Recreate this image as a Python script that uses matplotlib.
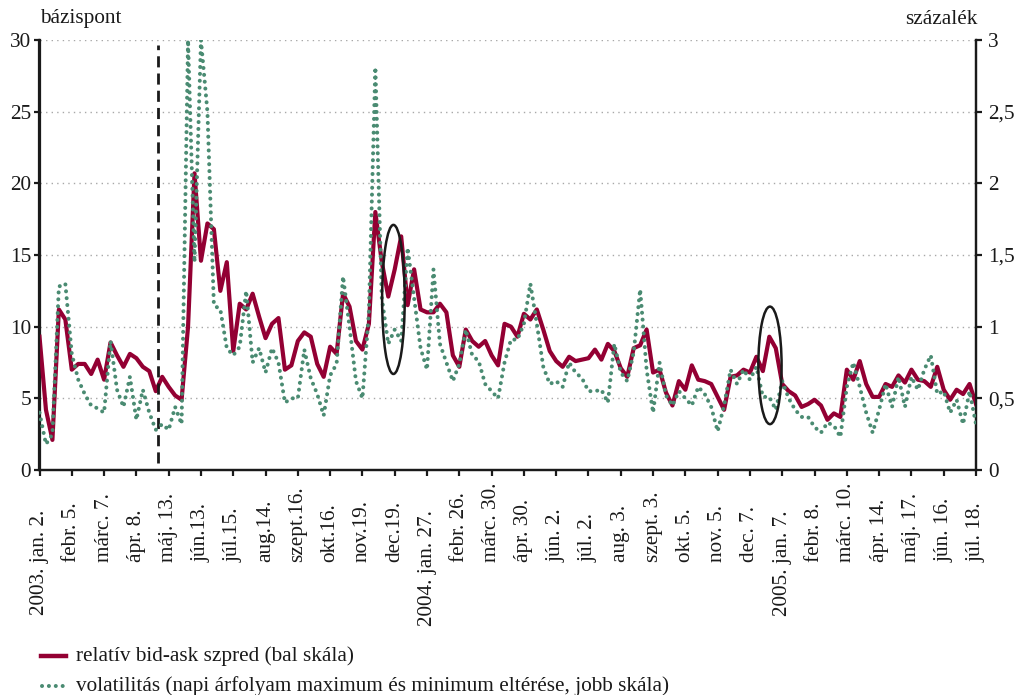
import matplotlib
matplotlib.use("Agg")
import matplotlib.pyplot as plt
from matplotlib.patches import Ellipse
from matplotlib.lines import Line2D
from matplotlib.transforms import blended_transform_factory

plt.rcParams["font.family"] = ["Liberation Serif", "DejaVu Serif"]

# Relative bid-ask spread (basis points, left scale), sampled five times per tick interval
spread_bp = [
    9.3, 4.2, 2.1, 11.2, 10.5, 7.0, 7.4, 7.4, 6.7, 7.7,
    6.3, 8.9, 8.0, 7.2, 8.1, 7.8, 7.2, 6.9, 5.5, 6.5,
    5.8, 5.2, 4.9, 10.0, 20.7, 14.6, 17.2, 16.8, 12.5, 14.5,
    8.3, 11.6, 11.2, 12.3, 10.7, 9.2, 10.2, 10.6, 7.0, 7.3,
    9.0, 9.6, 9.3, 7.4, 6.5, 8.6, 8.1, 12.3, 11.4, 9.0,
    8.4, 10.2, 18.0, 14.5, 12.1, 14.0, 16.3, 11.5, 14.0, 11.2,
    11.0, 11.0, 11.6, 11.0, 8.0, 7.2, 9.8, 9.0, 8.6, 9.0,
    8.0, 7.3, 10.2, 10.0, 9.3, 10.9, 10.5, 11.2, 9.8, 8.3,
    7.6, 7.2, 7.9, 7.6, 7.7, 7.8, 8.4, 7.7, 8.8, 8.3,
    7.1, 6.5, 8.5, 8.7, 9.8, 6.8, 7.0, 5.4, 4.5, 6.2,
    5.6, 7.3, 6.3, 6.2, 6.0, 5.1, 4.2, 6.5, 6.6, 7.0,
    6.8, 7.9, 6.9, 9.3, 8.5, 6.0, 5.5, 5.2, 4.4, 4.6,
    4.9, 4.5, 3.5, 3.95, 3.7, 7.0, 6.3, 7.6, 6.0, 5.1,
    5.1, 6.0, 5.8, 6.6, 6.1, 7.0, 6.3, 6.2, 5.8, 7.2,
    5.6, 4.9, 5.6, 5.3, 6.0, 4.6,
]

# Volatility: gap between daily high and low rate (percent, right scale)
volatility_pct = [
    0.40, 0.18, 0.25, 1.28, 1.30, 0.81, 0.63, 0.53, 0.45, 0.43,
    0.40, 0.90, 0.56, 0.44, 0.65, 0.35, 0.56, 0.40, 0.28, 0.32,
    0.28, 0.44, 0.32, 3.00, 1.45, 3.00, 2.50, 1.15, 1.12, 0.85,
    0.80, 0.86, 1.25, 0.75, 0.85, 0.68, 0.85, 0.75, 0.47, 0.50,
    0.50, 0.84, 0.64, 0.53, 0.38, 0.66, 0.74, 1.35, 1.00, 0.62,
    0.50, 1.10, 2.81, 1.20, 0.88, 0.98, 0.90, 1.55, 1.20, 0.85,
    0.70, 1.40, 0.88, 0.75, 0.62, 0.74, 0.98, 0.80, 0.76, 0.60,
    0.55, 0.50, 0.75, 0.91, 0.91, 1.02, 1.30, 1.02, 0.72, 0.60,
    0.62, 0.58, 0.75, 0.68, 0.64, 0.55, 0.55, 0.56, 0.47, 0.88,
    0.68, 0.62, 0.82, 1.26, 0.70, 0.40, 0.75, 0.52, 0.45, 0.55,
    0.50, 0.45, 0.58, 0.53, 0.44, 0.27, 0.45, 0.70, 0.60, 0.70,
    0.63, 0.72, 0.51, 0.51, 0.42, 0.62, 0.50, 0.42, 0.37, 0.37,
    0.30, 0.26, 0.33, 0.31, 0.23, 0.58, 0.75, 0.58, 0.40, 0.26,
    0.42, 0.60, 0.44, 0.65, 0.44, 0.65, 0.56, 0.70, 0.80, 0.53,
    0.55, 0.40, 0.49, 0.32, 0.55, 0.32,
]

date_labels = [
    "2003. jan. 2.", "febr. 5.", "márc. 7.", "ápr. 8.", "máj. 13.",
    "jún.13.", "júl.15.", "aug.14.", "szept.16.", "okt.16.",
    "nov.19.", "dec.19.", "2004. jan. 27.", "febr. 26.", "márc. 30.",
    "ápr. 30.", "jún. 2.", "júl. 2.", "aug. 3.", "szept. 3.",
    "okt. 5.", "nov. 5.", "dec. 7.", "2005. jan. 7.", "febr. 8.",
    "márc. 10.", "ápr. 14.", "máj. 17.", "jún. 16.", "júl. 18.",
]
left_ticks = [0, 5, 10, 15, 20, 25, 30]
right_ticks = [0, 0.5, 1, 1.5, 2, 2.5, 3]
right_tick_labels = ["0", "0,5", "1", "1,5", "2", "2,5", "3"]

# Event markers: dashed line and highlighted periods (x in sample index)
event_line_x = 18.3
highlights = [  # (centre x, centre y in bp, width, height)
    (54.8, 11.9, 3.5, 10.4),
    (113.1, 7.3, 3.6, 8.2),
]

RED = "#930033"
GREEN = "#4a8b72"
INK = "#1a1a1a"
FS = 15.3
samples_per_tick = 5

W, H = 1015, 695
fig = plt.figure(figsize=(W / 100, H / 100), dpi=100)
ax = fig.add_axes([39.5 / W, 1 - 470 / H, (976 - 39.5) / W, 430 / H])
ax2 = ax.twinx()

x = list(range(len(spread_bp)))
ax.plot(x, spread_bp, color=RED, lw=3.0, solid_joinstyle="round", zorder=3)
ax2.plot(x, volatility_pct, color=GREEN, lw=2.9,
         linestyle=(0, (0.01, 1.7)), dash_capstyle="round", zorder=4)

n = len(spread_bp) - 1
ax.set_xlim(0, n)
ax.set_ylim(0, 30)
ax2.set_ylim(0, 3)

ax.set_yticks(left_ticks)
ax.set_yticklabels([str(v) for v in left_ticks])
ax2.set_yticks(right_ticks)
ax2.set_yticklabels(right_tick_labels)

for v in left_ticks[1:]:
    ax.axhline(v, color="#a8a8a8", lw=1.0, linestyle=(0, (1, 3)), zorder=1)

tick_pos = [i * samples_per_tick for i in range(len(date_labels))]
ax.set_xticks(tick_pos)
ax.set_xticklabels([])

for a in (ax, ax2):
    for s in ("left", "right", "bottom"):
        a.spines[s].set_linewidth(1.6)
        a.spines[s].set_color(INK)
    a.spines["top"].set_visible(False)
    a.tick_params(width=1.6, length=4.5, color=INK, labelsize=FS,
                  labelcolor=INK)
ax.tick_params(axis="y", pad=1.5)
ax2.tick_params(axis="y", pad=4)
ax.tick_params(axis="x", length=4.5)

# Rotated date labels under the axis
trans = blended_transform_factory(ax.transData, fig.transFigure)
for pos, lab in zip(tick_pos, date_labels):
    if lab[:2] == "20":
        ax.text(pos, 1 - 510 / H, lab, rotation=90, ha="center", va="top",
                fontsize=FS, color=INK, transform=trans)
    else:
        ax.text(pos, 1 - 562 / H, lab, rotation=90, ha="center", va="bottom",
                fontsize=FS, color=INK, transform=trans)

ax.axvline(event_line_x, ymin=7 / 430, ymax=425 / 430, color=INK,
           lw=2.0, linestyle=(0, (4, 2.2)), zorder=5)

for cx, cy, w, h in highlights:
    ax2.add_patch(Ellipse((cx, cy), w, h, transform=ax.transData,
                          fill=False, edgecolor=INK, lw=1.8, zorder=6))

fig.text(40 / W, 1 - 19 / H, "bázispont", fontsize=FS, ha="left", va="center",
         color=INK)
fig.text(977 / W, 1 - 19 / H, "százalék", fontsize=FS, ha="right", va="center",
         color=INK)

# Legend rows
fig.add_artist(Line2D([41 / W, 66 / W], [1 - 656 / H] * 2, color=RED, lw=3.2))
fig.text(76 / W, 1 - 656 / H, "relatív bid-ask szpred (bal skála)", fontsize=FS,
         ha="left", va="center", color=INK)
fig.add_artist(Line2D([42 / W, 66 / W], [1 - 686 / H] * 2, color=GREEN, lw=2.9,
                      linestyle=(0, (0.01, 1.7)), dash_capstyle="round"))
fig.text(76 / W, 1 - 686 / H,
         "volatilitás (napi árfolyam maximum és minimum eltérése, jobb skála)",
         fontsize=FS, ha="left", va="center", color=INK)

fig.savefig("out.png", dpi=100)
